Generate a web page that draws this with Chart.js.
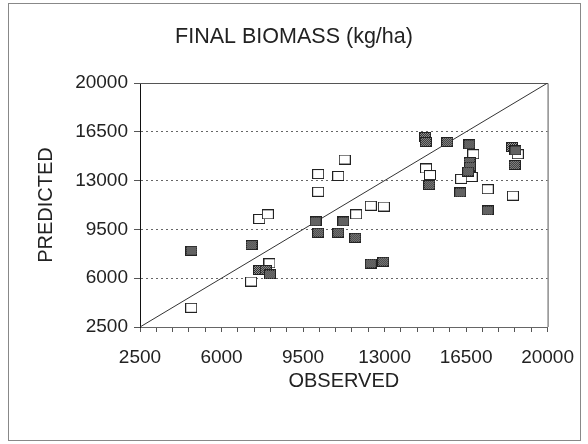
<!DOCTYPE html>
<html><head><meta charset="utf-8">
<script src="https://cdn.jsdelivr.net/npm/chart.js@4"></script>
<style>html,body{margin:0;padding:0;background:#fff}#wrap{width:588px;height:444px}</style>
</head><body><div id="wrap"><canvas id="c" width="588" height="444"></canvas></div>
<script>
const titleText = 'FINAL BIOMASS (kg/ha)';
const xTitle = 'OBSERVED';
const yTitle = 'PREDICTED';
const tickValues = [2500, 6000, 9500, 13000, 16500, 20000];
const axisMin = 2500, axisMax = 20000;

// open squares
const openObserved  = [4700, 7270, 8060, 7620, 7990, 10150, 10150, 11010, 11290, 11780, 12410, 12970, 14780, 14950, 16290, 16740, 16810, 17430, 18510, 18720];
const openPredicted = [3880, 5760, 7070, 10250, 10580, 13470, 12200, 13330, 14510, 10580, 11200, 11140, 13870, 13400, 13120, 13260, 14890, 12380, 11920, 14890];
// filled (hatched) squares
const filledObserved  = [4710, 7290, 7610, 7900, 8080, 10040, 10150, 11010, 11230, 11740, 12410, 12940, 14740, 14770, 14920, 15690, 16640, 16650, 16670, 16590, 16250, 17430, 18470, 18620, 18590];
const filledPredicted = [7970, 8380, 6590, 6590, 6270, 10070, 9260, 9260, 10070, 8900, 7050, 7180, 16130, 15770, 12680, 15770, 15600, 14330, 14010, 13650, 12150, 10860, 15410, 15160, 14120];
// 1:1 line
const lineX = [2500, 20000];
const lineY = [2500, 20000];

function makeOpen() {
  const c = document.createElement('canvas'); c.width = 12; c.height = 10;
  const g = c.getContext('2d');
  g.fillStyle = '#fff'; g.fillRect(0, 0, 12, 10);
  g.strokeStyle = '#222'; g.lineWidth = 1; g.strokeRect(0.5, 0.5, 11, 9);
  return c;
}
function makeFilled() {
  const c = document.createElement('canvas'); c.width = 12; c.height = 10;
  const g = c.getContext('2d');
  g.fillStyle = '#9a9a9a'; g.fillRect(0, 0, 12, 10);
  g.fillStyle = '#2a2a2a';
  for (let y = 0; y < 10; y++) for (let x = 0; x < 12; x++) if ((x + y) % 2 === 0) g.fillRect(x, y, 1, 1);
  g.strokeStyle = '#222'; g.lineWidth = 1; g.strokeRect(0.5, 0.5, 11, 9);
  return c;
}

const framePlugin = {
  id: 'frames',
  beforeDatasetsDraw(chart) {
    const {ctx, chartArea: a} = chart;
    ctx.save();
    ctx.strokeStyle = '#555'; ctx.lineWidth = 1;
    ctx.beginPath();
    ctx.moveTo(a.left, a.top + 0.5); ctx.lineTo(a.right + 0.5, a.top + 0.5); ctx.lineTo(a.right + 0.5, a.bottom);
    ctx.stroke();
    ctx.restore();
  },
  afterDraw(chart) {
    const ctx = chart.ctx;
    ctx.save();
    ctx.strokeStyle = '#888'; ctx.lineWidth = 1;
    ctx.strokeRect(8.5, 3.5, 572, 437);
    ctx.restore();
  }
};

const font = 'Liberation Sans, Arial, sans-serif';
new Chart(document.getElementById('c'), {
  data: {
    datasets: [
      { type: 'line', data: lineX.map((x, i) => ({x, y: lineY[i]})), borderColor: '#333', borderWidth: 1, pointRadius: 0, fill: false, order: 3 },
      { type: 'scatter', data: openObserved.map((x, i) => ({x, y: openPredicted[i]})), pointStyle: makeOpen(), order: 2 },
      { type: 'scatter', data: filledObserved.map((x, i) => ({x, y: filledPredicted[i]})), pointStyle: makeFilled(), order: 1 }
    ]
  },
  options: {
    responsive: false, animation: false, devicePixelRatio: 1,
    layout: { padding: 0 },
    plugins: {
      legend: { display: false }, tooltip: { enabled: false },
      title: { display: true, text: titleText, color: '#222', font: { family: font, size: 21.5, weight: 'normal' }, padding: { top: 24.1, bottom: 33.1 } }
    },
    scales: {
      x: {
        type: 'linear', position: 'bottom', min: axisMin, max: axisMax,
        afterBuildTicks(s) {
          const t = [];
          for (let i = 0; i < tickValues.length; i++) {
            t.push({value: tickValues[i]});
            if (i < tickValues.length - 1) {
              const step = (tickValues[i + 1] - tickValues[i]) / 5;
              for (let k = 1; k < 5; k++) t.push({value: tickValues[i] + step * k});
            }
          }
          s.ticks = t.sort((a, b) => a.value - b.value);
        },
        afterFit(s) { s.height = 117; },
        grid: { drawOnChartArea: false, tickLength: 5, tickColor: '#555' },
        border: { color: '#666', width: 1 },
        ticks: { autoSkip: false, maxRotation: 0, padding: 14, color: '#222', font: { family: font, size: 19 },
          callback: v => tickValues.includes(v) ? String(v) : '' },
        title: { display: true, text: xTitle, color: '#222', font: { family: font, size: 20 }, padding: { top: 0, bottom: 51 } }
      },
      y: {
        type: 'linear', position: 'left', min: axisMin, max: axisMax,
        afterBuildTicks(s) { s.ticks = tickValues.map(v => ({value: v})); },
        afterFit(s) { s.width = 140; },
        grid: { tickLength: 6, tickColor: '#555', color: c => (c.tick && (c.tick.value === axisMin || c.tick.value === axisMax)) ? 'rgba(0,0,0,0)' : '#666', lineWidth: 1 },
        border: { color: '#111', width: 1, dash: [2, 3] },
        ticks: { padding: 6, color: '#222', font: { family: font, size: 19 }, callback: v => String(v) },
        title: { display: true, text: yTitle, color: '#222', font: { family: font, size: 20 }, padding: { top: 34, bottom: 0 } }
      },
      yR: {
        type: 'linear', position: 'right', display: true,
        afterFit(s) { s.width = 30; },
        grid: { display: false }, border: { display: false }, ticks: { display: false }
      }
    }
  },
  plugins: [framePlugin]
});
</script></body></html>
